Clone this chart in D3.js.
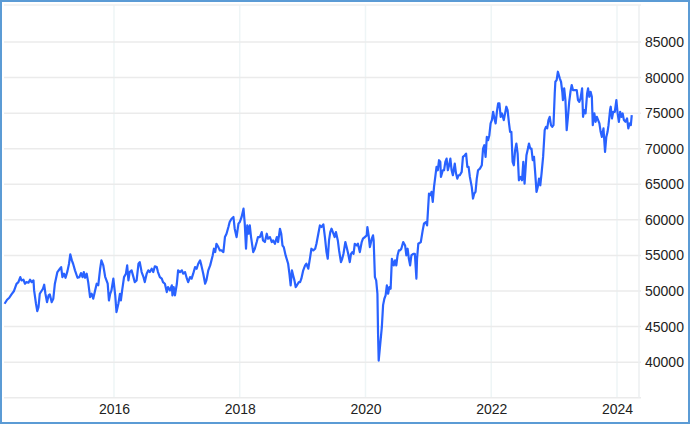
<!DOCTYPE html>
<html>
<head>
<meta charset="utf-8">
<script src="https://cdn.jsdelivr.net/npm/d3@7"></script>
<style>
html,body{margin:0;padding:0;background:#fff;}
svg{display:block;}
text{font-family:Arial,"Liberation Sans",sans-serif;}
</style>
</head>
<body>
<svg id="chart" width="690" height="424"></svg>
<script>
// time in decimal years
const dates = [
2014.26,2014.30,2014.335,2014.37,2014.41,2014.45,2014.48,2014.51,2014.53,2014.56,2014.585,2014.61,2014.64,2014.665,2014.69,2014.72,2014.73,2014.76,2014.78,2014.80,
2014.82,2014.87,2014.89,2014.91,2014.935,2014.96,2014.98,2015.01,2015.035,2015.06,2015.10,2015.14,2015.16,2015.18,2015.205,2015.23,2015.26,2015.285,2015.305,2015.33,
2015.35,2015.38,2015.42,2015.45,2015.475,2015.50,2015.52,2015.54,2015.566,2015.59,2015.62,2015.645,2015.67,2015.70,2015.725,2015.75,2015.78,2015.80,2015.83,2015.86,
2015.90,2015.92,2015.94,2015.96,2015.99,2016.02,2016.04,2016.07,2016.095,2016.11,2016.13,2016.16,2016.19,2016.21,2016.23,2016.25,2016.28,2016.31,2016.33,2016.36,
2016.39,2016.41,2016.44,2016.47,2016.49,2016.52,2016.545,2016.57,2016.60,2016.625,2016.65,2016.68,2016.70,2016.73,2016.76,2016.78,2016.81,2016.84,2016.86,2016.89,
2016.92,2016.93,2016.95,2016.97,2017.00,2017.02,2017.05,2017.08,2017.10,2017.13,2017.16,2017.18,2017.21,2017.235,2017.26,2017.29,2017.315,2017.34,2017.37,2017.39,
2017.42,2017.45,2017.47,2017.50,2017.53,2017.57,2017.59,2017.61,2017.63,2017.66,2017.685,2017.71,2017.74,2017.765,2017.79,2017.82,2017.84,2017.87,2017.90,2017.92,
2017.95,2017.98,2018.00,2018.03,2018.06,2018.08,2018.10,2018.12,2018.14,2018.16,2018.18,2018.215,2018.24,2018.27,2018.29,2018.32,2018.35,2018.37,2018.40,2018.43,
2018.45,2018.48,2018.51,2018.53,2018.56,2018.59,2018.61,2018.64,2018.66,2018.68,2018.70,2018.73,2018.77,2018.79,2018.81,2018.83,2018.85,2018.87,2018.89,2018.91,
2018.94,2018.96,2018.98,2019.01,2019.04,2019.06,2019.09,2019.12,2019.14,2019.17,2019.20,2019.22,2019.25,2019.275,2019.30,2019.33,2019.355,2019.38,2019.40,2019.42,
2019.44,2019.46,2019.49,2019.51,2019.53,2019.56,2019.58,2019.61,2019.63,2019.65,2019.68,2019.70,2019.725,2019.75,2019.77,2019.79,2019.81,2019.83,2019.86,2019.88,
2019.91,2019.94,2019.96,2019.99,2020.02,2020.03,2020.05,2020.07,2020.10,2020.12,2020.13,2020.15,2020.17,2020.19,2020.20,2020.21,2020.23,2020.26,2020.28,2020.30,
2020.32,2020.34,2020.36,2020.38,2020.40,2020.42,2020.45,2020.47,2020.49,2020.51,2020.53,2020.55,2020.57,2020.60,2020.63,2020.65,2020.67,2020.69,2020.71,2020.73,
2020.76,2020.785,2020.81,2020.82,2020.84,2020.88,2020.91,2020.93,2020.96,2020.98,2021.01,2021.035,2021.05,2021.07,2021.09,2021.11,2021.13,2021.15,2021.17,2021.19,
2021.20,2021.23,2021.25,2021.27,2021.29,2021.31,2021.33,2021.35,2021.37,2021.39,2021.42,2021.44,2021.46,2021.48,2021.50,2021.53,2021.55,2021.58,2021.60,2021.62,
2021.64,2021.66,2021.69,2021.71,2021.73,2021.75,2021.77,2021.79,2021.82,2021.85,2021.87,2021.89,2021.91,2021.93,2021.95,2021.97,2021.99,2022.01,2022.03,2022.05,
2022.07,2022.09,2022.11,2022.13,2022.15,2022.17,2022.20,2022.22,2022.24,2022.26,2022.28,2022.30,2022.32,2022.34,2022.36,2022.38,2022.40,2022.42,2022.44,2022.47,
2022.49,2022.51,2022.53,2022.56,2022.59,2022.60,2022.62,2022.64,2022.66,2022.68,2022.70,2022.72,2022.74,2022.76,2022.78,2022.80,2022.825,2022.85,2022.87,2022.89,
2022.91,2022.93,2022.95,2022.97,2022.99,2023.01,2023.02,2023.04,2023.06,2023.09,2023.11,2023.13,2023.14,2023.16,2023.18,2023.20,2023.22,2023.24,2023.26,2023.28,
2023.30,2023.32,2023.34,2023.36,2023.38,2023.40,2023.42,2023.445,2023.46,2023.48,2023.50,2023.525,2023.54,2023.56,2023.58,2023.60,2023.615,2023.64,2023.66,2023.68,
2023.70,2023.72,2023.74,2023.76,2023.785,2023.81,2023.83,2023.85,2023.865,2023.89,2023.90,2023.92,2023.94,2023.965,2023.99,2024.01,2024.03,2024.05,2024.07,2024.09,
2024.11,2024.135,2024.16,2024.18,2024.20,2024.22,2024.235
];
const values = [
48210,48770,49050,49520,50000,51000,51250,51950,51490,51590,51020,51250,51160,51590,51250,51490,50080,48210,47170,47730,
49610,50320,50880,49610,48430,49380,49520,48430,48910,51020,52660,53130,53360,51950,52430,51860,52790,53830,55150,54300,
53830,52900,51860,51950,52520,51950,52660,51860,52430,51250,49140,49610,48910,50080,51020,50800,53130,54300,53600,52000,
51020,48670,49610,50080,51730,49380,47030,48210,49610,48670,50080,51950,52430,53600,51490,52660,52900,51950,51250,51490,
53830,54060,52660,51950,51250,52430,52900,52660,53130,52660,53460,53360,52660,51950,51730,51250,51020,49850,50550,50080,
50800,49380,50550,49380,51020,52900,52660,52900,52430,52660,51730,51250,51950,51730,52430,53360,53130,53830,54300,53600,
52430,51020,51490,52900,53600,55000,55940,55470,56640,56170,55700,55700,55470,57580,58050,58990,59690,60160,60400,58750,
57580,59460,59690,60400,61570,59460,55940,59220,58050,59220,57580,55470,55940,56880,57580,57580,58280,57110,56880,58050,
57350,57580,56880,57110,56640,57580,56880,58750,58050,56400,56170,55000,53830,52430,50800,52900,52190,51490,50550,50800,
51250,51250,51730,52900,53600,53830,53130,54770,55940,55700,55940,56640,58050,59220,58990,59370,57580,55470,54530,57110,
58280,58750,58050,57580,58280,57110,55700,54060,54530,55230,56880,56170,55230,54060,55230,55470,55230,56640,56400,56640,
55470,56880,57350,57580,57820,58990,57820,56170,57350,57820,57110,51950,51490,49610,43970,40220,42100,44910,48010,48910,
49380,50800,49610,50550,50320,54530,53600,54300,53600,55000,55700,55700,55940,56880,56400,55000,55940,54530,53600,55000,
55230,55230,51730,54530,56640,56880,58520,59460,59690,59220,63700,63470,63930,62530,64630,66040,67440,66970,68380,68150,
66040,66970,66970,68150,68610,66970,67670,68610,66970,66270,67910,66500,65800,66270,66270,66740,68850,69080,69320,67440,
67440,66040,64630,62990,63700,63930,65800,66970,67200,67670,70020,70490,68850,71660,71200,71900,73550,74020,75190,74250,
73550,75190,76370,76370,74480,74960,74020,74960,75900,75430,73780,72370,72370,68150,67670,69790,70730,69320,65560,66040,
65560,68150,65100,69080,70260,70730,70020,70020,68380,68850,66500,63930,64630,65800,64860,66500,68850,72610,73080,72850,
74020,74480,73310,73080,73310,77780,79410,79650,80820,79890,79410,78000,76830,78480,76830,72610,74480,76590,78000,78950,
78240,78240,78240,78240,76830,76590,77070,78480,74480,75430,74960,77780,78480,77300,78000,77300,73310,74960,73780,74480,
74020,73550,72370,71660,72850,69550,71660,72370,73310,75430,75900,74250,75190,75190,76830,74960,73780,75190,74480,74960,
74020,73780,74250,72850,73550,73310,74720
];
const xTickYears = [2016, 2018, 2020, 2022, 2024];
const xTickLabels = ["2016", "2018", "2020", "2022", "2024"];
const yTickValues = [40000, 45000, 50000, 55000, 60000, 65000, 70000, 75000, 80000, 85000];
const yTickLabels = ["40000", "45000", "50000", "55000", "60000", "65000", "70000", "75000", "80000", "85000"];
const yGridValues = [35000, 40000, 45000, 50000, 55000, 60000, 65000, 70000, 75000, 80000, 85000];

(function () {
const svg = d3.select("#chart");
const W = 690, H = 424;
const pL = 4, pR = 639, pT = 5, pB = 397.7;

const x = d3.scaleLinear().domain([2014.251, 2024.35]).range([pL, pR]);
const y = d3.scaleLinear().domain([35000, 90200]).range([pB, pT]);

// vertical gridlines
svg.append("g").selectAll("line").data(xTickYears).enter().append("line")
  .attr("x1", d => x(d)).attr("x2", d => x(d))
  .attr("y1", pT).attr("y2", pB)
  .attr("stroke", "#eef5f6").attr("stroke-width", 1.5);

// horizontal gridlines
svg.append("g").selectAll("line").data(yGridValues).enter().append("line")
  .attr("x1", pL).attr("x2", pR + 2)
  .attr("y1", d => y(d)).attr("y2", d => y(d))
  .attr("stroke", "#ebebeb").attr("stroke-width", 1.5);
// top edge
svg.append("line").attr("x1", pL).attr("x2", pR + 2).attr("y1", pT).attr("y2", pT)
  .attr("stroke", "#efefef").attr("stroke-width", 1.5);
// right edge of plot
svg.append("line").attr("x1", pR).attr("x2", pR).attr("y1", pT).attr("y2", pB)
  .attr("stroke", "#eceff0").attr("stroke-width", 1.5);

// y axis labels (right)
const yAxis = d3.axisRight(y).tickValues(yTickValues)
  .tickFormat((d, i) => yTickLabels[i]).tickSize(0).tickPadding(0);
const ya = svg.append("g").attr("transform", "translate(645,0)").call(yAxis);
ya.select(".domain").remove();
ya.selectAll("text").attr("font-size", 14).attr("fill", "#222")
  .attr("font-family", "Arial, 'Liberation Sans', sans-serif");

// x axis labels
const xAxis = d3.axisBottom(x).tickValues(xTickYears)
  .tickFormat((d, i) => xTickLabels[i]).tickSize(0).tickPadding(0);
const xa = svg.append("g").attr("transform", "translate(0,404)").call(xAxis);
xa.select(".domain").remove();
xa.selectAll("text").attr("font-size", 14).attr("fill", "#222")
  .attr("font-family", "Arial, 'Liberation Sans', sans-serif");

// line
const pts = dates.map((d, i) => [d, values[i]]);
const line = d3.line().x(d => x(d[0])).y(d => y(d[1]));
svg.append("path").datum(pts)
  .attr("d", line)
  .attr("fill", "none")
  .attr("stroke", "#2962ff")
  .attr("stroke-width", 2.2)
  .attr("stroke-linejoin", "round");

// outer border
svg.append("rect").attr("x", 1).attr("y", 1).attr("width", W - 2).attr("height", H - 2)
  .attr("fill", "none").attr("stroke", "#5b9bd5").attr("stroke-width", 2);
})();
</script>
</body>
</html>
